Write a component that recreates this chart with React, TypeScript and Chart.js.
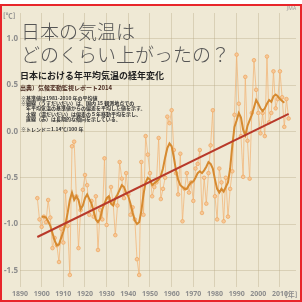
import React, { useEffect, useRef } from "react";
import { Chart, registerables } from "chart.js";

Chart.register(...registerables);

// Annual mean temperature anomaly in Japan (°C), 1898–2014
const START_YEAR = 1898;
const annualAnomaly = [
  -0.72, -0.95,
  -1.03, -0.92, -0.98, -0.74, -0.93, -1.26, -1.15, -1.23, -1.41, -1.05,
  -1.2, -0.65, -1.02, -1.55, -0.16, -0.11, -0.7, -1.26, -0.85, -0.63,
  -0.47, -0.58, -0.9, -0.75, -0.92, -0.7, -1.28, -0.85, -0.95, -0.29,
  -1.01, -0.72, -0.6, -0.78, -1.12, -0.8, -0.33, -0.51, -0.72, -0.45,
  -0.68, -0.9, -0.82, -0.95, -1.38, -1.55, -0.33, -0.9, -0.05, -0.25,
  -0.45, -0.7, -0.6, -0.55, -0.07, -0.73, -0.62, -0.5, 0.16, 0.09,
  0.23, -0.2, -0.45, -0.68, -0.24, -0.97, -0.62, -0.45, -0.66, -0.55,
  -0.75, -0.4, -0.35, -0.2, -0.88, -0.5, -0.78, -0.45, -0.15, 0.23,
  -0.7, -0.95, -0.4, -0.55, -0.97, -0.5, -0.92, -0.62, -0.43, 0.18,
  0.83, 0.3, -0.05, -0.49, 0.59, -0.1, -0.51, 0.2, 0.77, 0.45,
  0.2, -0.02, 0.2, -0.05, 0.81, 0.1, 0.2, 0.65, 0.25, 0.35,
  0.65, 0.37, 0.05, 0.35, 0.14,
];

// 5-year running mean, 1900–2012
const MA_START_YEAR = 1900;
const movingAverage = [
  -0.92, -0.92, -0.93, -0.97, -1.02, -1.1, -1.18, -1.23, -1.22, -1.15,
  -1.08, -1.0, -0.88, -0.74, -0.66, -0.74, -0.7, -0.74, -0.84, -0.8,
  -0.72, -0.68, -0.73, -0.78, -0.86, -0.95, -0.98, -0.94, -0.84, -0.78,
  -0.72, -0.7, -0.78, -0.8, -0.72, -0.68, -0.63, -0.58, -0.6, -0.66,
  -0.7, -0.78, -0.88, -0.96, -1.0, -0.98, -0.86, -0.68, -0.55, -0.5,
  -0.52, -0.58, -0.56, -0.54, -0.52, -0.48, -0.4, -0.28, -0.18, -0.13,
  -0.16, -0.28, -0.42, -0.52, -0.58, -0.6, -0.62, -0.62, -0.58, -0.55,
  -0.54, -0.5, -0.45, -0.43, -0.45, -0.42, -0.38, -0.33, -0.35, -0.4,
  -0.52, -0.62, -0.66, -0.62, -0.65, -0.6, -0.55, -0.4, -0.15, 0.05,
  0.12, 0.2, 0.15, 0.02, -0.04, 0.06, 0.12, 0.18, 0.26, 0.34,
  0.3, 0.25, 0.22, 0.25, 0.3, 0.34, 0.32, 0.38, 0.4, 0.38,
  0.35, 0.33, 0.31,
];

// Long-term trend line (1.14 °C / 100 years)
const trendYears = [1898, 2014];
const trendValues = [-1.14, 0.19];

const xTickYears = [1890, 1900, 1910, 1920, 1930, 1940, 1950, 1960, 1970, 1980, 1990, 2000, 2010];
const yTickValues = [-1.5, -1.0, -0.5, 0.0, 0.5, 1.0];

const noteLines = [
  "※基準値は1981-2010 年の平均値",
  "※細線（うすだいだい）は、国内 15 観測地点での",
  "　年平均気温の基準値からの偏差を平均した値を示す。",
  "　太線（濃だいだい）は偏差の５年移動平均を示し、",
  "　直線（赤）は長期的な傾向を示している。",
];

const JP = '"Noto Sans CJK JP", "Noto Sans", sans-serif';

export default function App() {
  const ref = useRef<HTMLCanvasElement | null>(null);

  useEffect(() => {
    document.body.style.margin = "0";
    const canvas = ref.current;
    if (!canvas) return;
    const gridColor = "rgba(185,170,135,0.4)";
    const chart = new Chart(canvas, {
      type: "line",
      data: {
        datasets: [
          {
            label: "trend",
            data: trendYears.map((y, i) => ({ x: y, y: trendValues[i] })),
            borderColor: "#b8392a",
            borderWidth: 2,
            pointRadius: 0,
            order: 0,
          },
          {
            label: "ma",
            data: movingAverage.map((v, i) => ({ x: MA_START_YEAR + i, y: v })),
            borderColor: "#d68a30",
            borderWidth: 2,
            pointRadius: 0,
            order: 1,
          },
          {
            label: "annual",
            data: annualAnomaly.map((v, i) => ({ x: START_YEAR + i, y: v })),
            borderColor: "rgba(242,180,118,0.75)",
            borderWidth: 1,
            pointRadius: 1.8,
            pointBackgroundColor: "#f7c898",
            pointBorderColor: "#eeaa66",
            pointBorderWidth: 0.8,
            order: 2,
          },
        ],
      },
      options: {
        animation: false,
        responsive: false,
        maintainAspectRatio: false,
        layout: { padding: { left: 0, top: 13, right: 6, bottom: 0 } },
        plugins: { legend: { display: false }, tooltip: { enabled: false } },
        scales: {
          x: {
            type: "linear",
            min: 1890,
            max: 2017.4,
            afterBuildTicks: (s: any) => {
              s.ticks = xTickYears.map((v) => ({ value: v }));
            },
            afterFit: (s: any) => {
              s.height = 15;
            },
            ticks: {
              color: "#8d8d8d",
              font: { size: 7, family: "Noto Sans", weight: "bold" },
              padding: 3,
              maxRotation: 0,
              autoSkip: false,
              callback: (v: any) => String(v),
            },
            grid: { color: gridColor, drawTicks: false },
            border: { display: false },
          },
          y: {
            type: "linear",
            min: -1.68,
            max: 1.28,
            afterBuildTicks: (s: any) => {
              s.ticks = yTickValues.map((v) => ({ value: v }));
            },
            afterFit: (s: any) => {
              s.width = 20;
            },
            ticks: {
              color: "#8d8d8d",
              font: { size: 8, family: "Noto Sans", weight: "bold" },
              padding: 2,
              callback: (v: any) => Number(v).toFixed(1),
            },
            grid: { color: gridColor, drawTicks: false },
            border: { display: false },
          },
        },
      },
    });
    return () => chart.destroy();
  }, []);

  return (
    <div style={{ position: "relative", width: 302, height: 302, background: "#fff", overflow: "hidden" }}>
      <div
        style={{
          position: "absolute",
          left: 0,
          top: 4,
          width: 302,
          height: 298,
          boxSizing: "border-box",
          border: "2px solid #e8262b",
          background: "#efe9d5",
        }}
      />
      <canvas ref={ref} width={302} height={302} style={{ position: "absolute", left: 0, top: 0, width: 302, height: 302 }} />
      <div style={{ position: "absolute", left: 3, top: 12, fontFamily: JP, fontSize: 7, fontWeight: 700, color: "#8d8d8d", lineHeight: 1 }}>[℃]</div>
      <div style={{ position: "absolute", left: 287, top: 6, fontFamily: "Noto Sans", fontSize: 5, color: "#9a9a9a", lineHeight: 1 }}>JMA</div>
      <div style={{ position: "absolute", left: 285, top: 291, fontFamily: JP, fontSize: 7, fontWeight: 700, color: "#8d8d8d", lineHeight: 1 }}>[年]</div>
      <div style={{ position: "absolute", left: 21, top: 19, fontFamily: JP, fontSize: 19, color: "#555", lineHeight: "23px", whiteSpace: "nowrap", fontWeight: 300 }}>
        日本の気温は
        <br />
        どのくらい上がったの？
      </div>
      <div style={{ position: "absolute", left: 20, top: 71, fontFamily: JP, fontSize: 9, fontWeight: 700, color: "#222", lineHeight: 1, whiteSpace: "nowrap" }}>
        日本における年平均気温の経年変化
      </div>
      <div style={{ position: "absolute", left: 20, top: 85, fontFamily: JP, fontSize: 6, fontWeight: 700, color: "#4a2a20", lineHeight: 1, whiteSpace: "nowrap" }}>
        出典）気候変動監視レポート2014
      </div>
      <div style={{ position: "absolute", left: 21, top: 95, fontFamily: JP, fontSize: 5, fontWeight: 700, color: "#333", lineHeight: "5.2px", whiteSpace: "nowrap" }}>
        {noteLines.map((t, i) => (
          <div key={i}>{t}</div>
        ))}
      </div>
      <div style={{ position: "absolute", left: 21, top: 126, fontFamily: JP, fontSize: 5, fontWeight: 700, color: "#333", lineHeight: 1, whiteSpace: "nowrap" }}>
        ※トレンド＝1.14℃/100 年
      </div>
    </div>
  );
}
